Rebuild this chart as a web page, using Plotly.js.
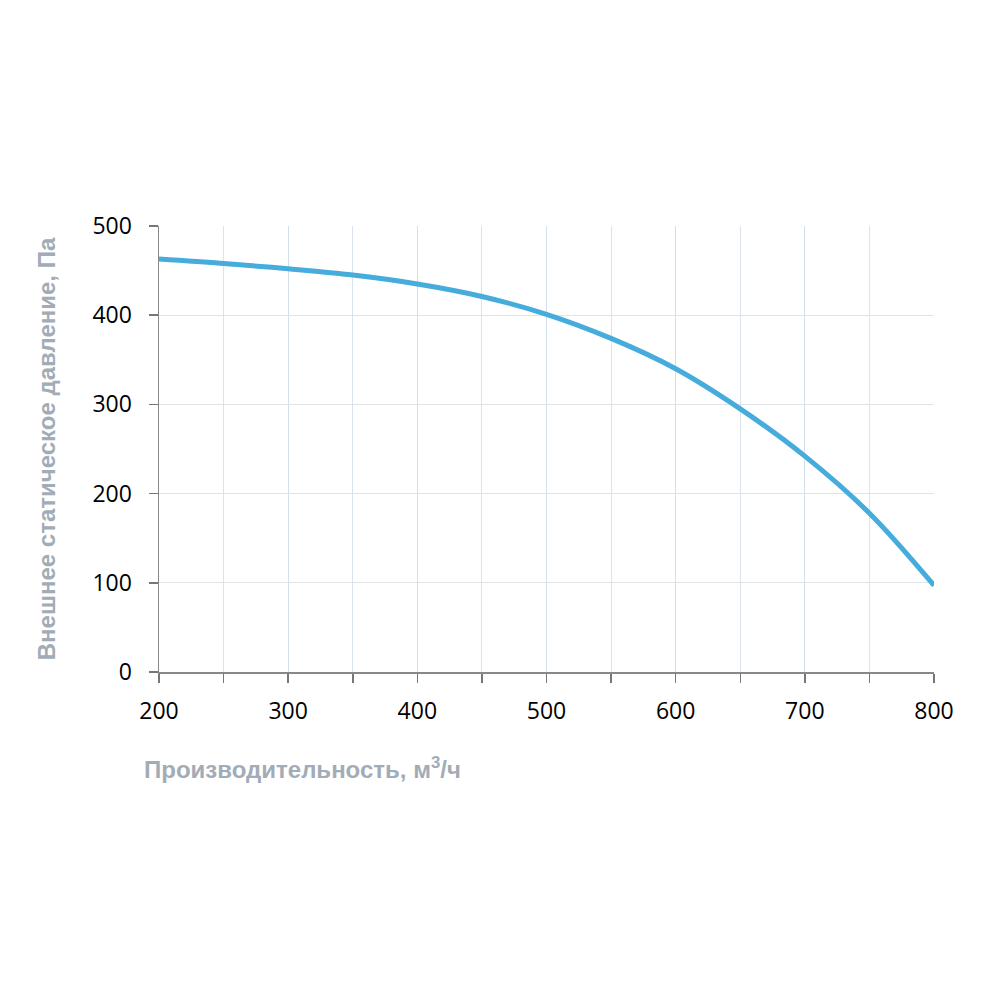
<!DOCTYPE html>
<html><head><meta charset="utf-8">
<script src="https://cdn.plot.ly/plotly-3.0.1.min.js"></script>
<style>body{margin:0;background:#fff}</style>
</head><body><div id="chart" style="width:1000px;height:1000px"></div>
<script>
const airflow = [200, 250, 300, 350, 400, 450, 500, 550, 600, 650, 700, 750, 800];
const pressure = [463, 458, 452, 445, 435, 421, 401, 374, 340, 295, 242, 178, 97];
const xTickVals = [200, 300, 400, 500, 600, 700, 800];
const yTickVals = [0, 100, 200, 300, 400, 500];
const xTitle = 'Производительность, м<sup>3</sup>/ч';
const yTitle = 'Внешнее статическое давление, Па';

const trace = {
  x: airflow, y: pressure, type: 'scatter', mode: 'lines',
  line: {color: '#45acdc', width: 5, shape: 'spline', smoothing: 1},
  hoverinfo: 'skip'
};
const layout = {
  width: 1000, height: 1000,
  margin: {l: 159, r: 66, t: 226, b: 328},
  paper_bgcolor: '#fff', plot_bgcolor: '#fff',
  showlegend: false,
  font: {family: 'Open Sans, sans-serif', color: '#000'},
  xaxis: {
    range: [200, 800], tickvals: xTickVals, tickfont: {size: 23, color: '#000'},
    ticks: 'outside', ticklen: 9, tickcolor: '#777', tickwidth: 1.5,
    minor: {dtick: 50, tick0: 0, ticks: 'outside', ticklen: 9, tickcolor: '#777', showgrid: true, gridcolor: '#dbe3ec', gridwidth: 1},
    showline: true, linecolor: '#888', linewidth: 1.5,
    showgrid: true, gridcolor: '#d3e0ec', gridwidth: 1,
    zeroline: false, ticklabelstandoff: 9
  },
  yaxis: {
    range: [0, 500], tickvals: yTickVals, tickfont: {size: 23, color: '#000'},
    ticks: 'outside', ticklen: 9, tickcolor: '#777', tickwidth: 1.5,
    showline: true, linecolor: '#888', linewidth: 1.5,
    showgrid: true, gridcolor: '#dee4ea', gridwidth: 1,
    zeroline: false, ticklabelstandoff: 12,
    title: {text: yTitle, font: {family: 'Liberation Sans, Arial, sans-serif', size: 24, color: '#a2acb6', weight: 'bold'}, standoff: 30}
  },
  annotations: [{
    text: '<b>' + xTitle + '</b>', xref: 'paper', yref: 'paper',
    x: -0.022, y: -0.215, xanchor: 'left', yanchor: 'middle', showarrow: false,
    font: {family: 'Liberation Sans, Arial, sans-serif', size: 24, color: '#a2acb6'}
  }]
};
Plotly.newPlot('chart', [trace], layout, {displayModeBar: false, staticPlot: true});
</script></body></html>
